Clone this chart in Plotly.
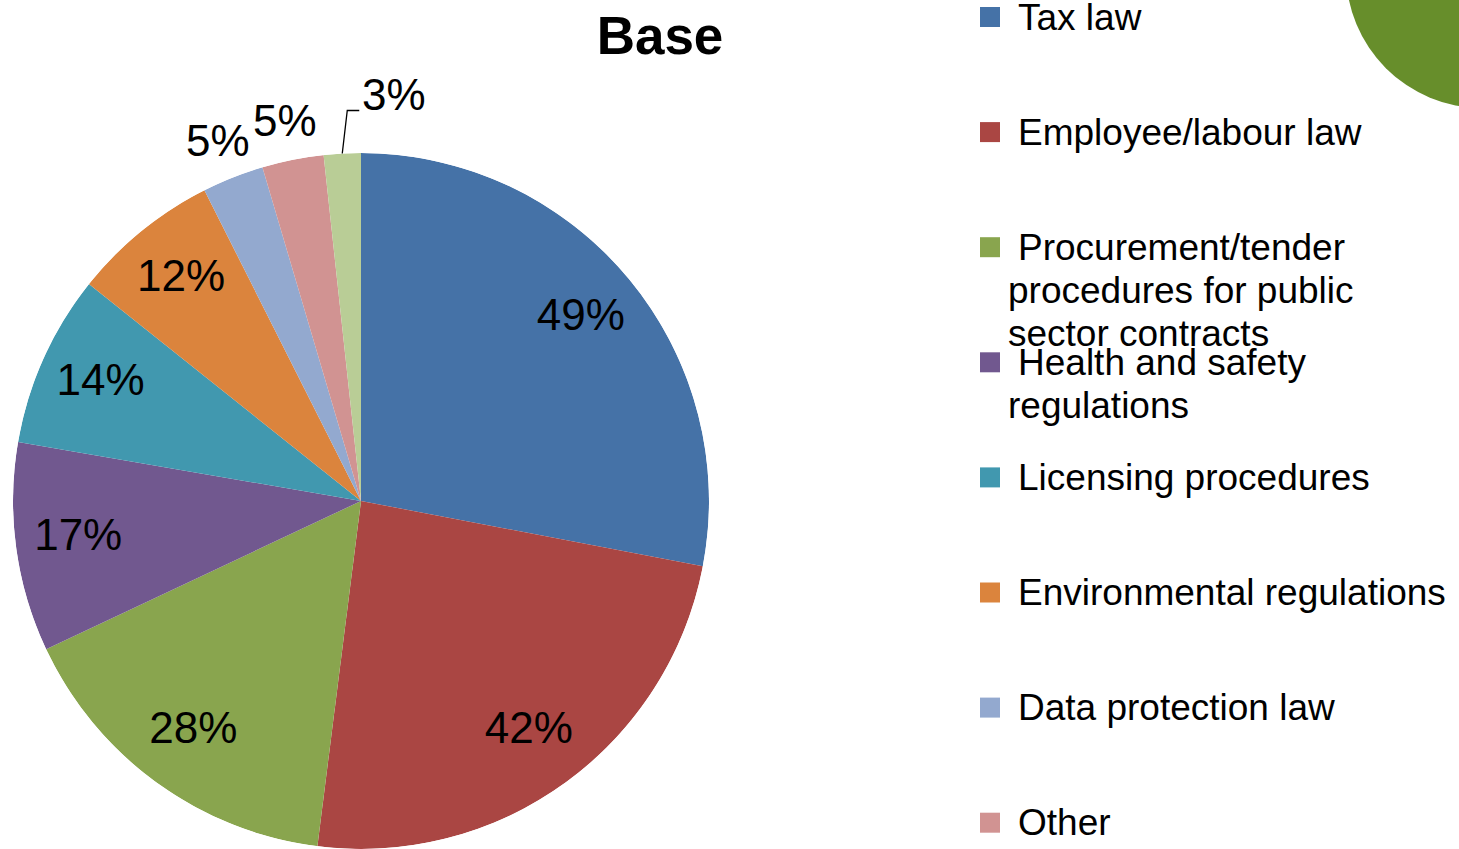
import math
import plotly.graph_objects as go

# Share of respondents citing each area of regulation (%)
categories = [
    "Tax law",
    "Employee/labour law",
    "Procurement/tender procedures for public sector contracts",
    "Health and safety regulations",
    "Licensing procedures",
    "Environmental regulations",
    "Data protection law",
    "Other",
    "Don't know",
]
values = [49, 42, 28, 17, 14, 12, 5, 5, 3]
colors = ["#4572A7", "#AA4643", "#89A54E", "#71588F", "#4198AF",
          "#DB843D", "#93A9CF", "#D19392", "#B9CD96"]
# Wrapped legend text
legend_lines = [
    ["Tax law"],
    ["Employee/labour law"],
    ["Procurement/tender", "procedures for public", "sector contracts"],
    ["Health and safety", "regulations"],
    ["Licensing procedures"],
    ["Environmental regulations"],
    ["Data protection law"],
    ["Other"],
    ["Don't know"],
]

W, H = 1459, 849
FONT = "Liberation Sans, Arial, sans-serif"

# Pie placement on the page (pixels)
CX, CY, R = 361, 501, 348

# Slice geometry in degrees (clockwise from 12 o'clock)
total = sum(values)
widths = [v / total * 360 for v in values]
mids = []
acc = 0.0
for w in widths:
    mids.append(acc + w / 2)
    acc += w
labels_text = [f"{v}%" for v in values]


def rim_point(theta_deg, rr):
    """Pixel position at fraction rr of the radius along angle theta."""
    t = math.radians(theta_deg)
    return CX + rr * R * math.sin(t), CY - rr * R * math.cos(t)


def px(x, y):
    return x / W, 1 - y / H


fig = go.Figure()

# Pie slices as full-radius polar wedges
fig.add_trace(go.Barpolar(
    r=[1] * len(values), theta=mids, width=widths,
    marker=dict(color=colors, line=dict(width=0)),
    customdata=labels_text, hovertext=categories,
    hovertemplate="%{hovertext}: %{customdata}<extra></extra>",
    showlegend=False,
))

# Value labels inside the large slices
big = [i for i, v in enumerate(values) if v >= 10]
small = [i for i, v in enumerate(values) if v < 10]
fig.add_trace(go.Scatterpolar(
    r=[0.82] * len(big), theta=[mids[i] for i in big],
    text=[labels_text[i] for i in big], mode="text",
    textposition="middle center",
    textfont=dict(family=FONT, size=44, color="black"),
    hoverinfo="skip", showlegend=False,
))

# Value labels just outside the rim for the small slices
label_font = dict(family=FONT, size=44, color="black")
for i in small[:-1]:
    x, y = rim_point(mids[i], 1.115)
    ax, ay = px(x, y)
    fig.add_annotation(x=ax, y=ay, xref="paper", yref="paper",
                       text=labels_text[i], showarrow=False,
                       xanchor="center", yanchor="middle", font=label_font)

# Smallest slice: label lifted to the right with an elbow leader line
last = small[-1]
x0, y0 = rim_point(mids[last], 1.0)
x1, y1 = x0 + 5, y0 - 43
x2, y2 = x1 + 12, y1
p0, p1, p2 = px(x0, y0), px(x1, y1), px(x2, y2)
fig.add_shape(type="path", xref="paper", yref="paper",
              path=f"M {p0[0]},{p0[1]} L {p1[0]},{p1[1]} L {p2[0]},{p2[1]}",
              line=dict(color="black", width=1.3))
tx, ty = px(x2 + 2, y2 - 16)
fig.add_annotation(x=tx, y=ty, xref="paper", yref="paper",
                   text=labels_text[last], showarrow=False, borderpad=0,
                   xanchor="left", yanchor="middle", font=label_font)

# Legend drawn as squares plus text lines
pitch = 115.1
line_gap = 43
for i, (lines, col) in enumerate(zip(legend_lines, colors)):
    yc = 17 + pitch * i
    if yc > H:
        continue
    fig.add_shape(type="rect", xref="paper", yref="paper",
                  x0=980 / W, x1=1000 / W,
                  y0=1 - (yc + 10) / H, y1=1 - (yc - 10) / H,
                  fillcolor=col, line=dict(width=0))
    for k, txt in enumerate(lines):
        x = 1017 if k == 0 else 1007
        fig.add_annotation(x=x / W, y=1 - (yc + line_gap * k) / H,
                           xref="paper", yref="paper",
                           xanchor="left", yanchor="middle", borderpad=0,
                           text=txt, showarrow=False,
                           font=dict(family=FONT, size=37, color="black"))

# Decorative green disc in the top-right corner
fig.add_shape(type="circle", xref="paper", yref="paper",
              x0=(1482 - 136) / W, x1=(1482 + 136) / W,
              y0=1 - (-28 + 136) / H, y1=1 - (-28 - 136) / H,
              fillcolor="#678E2B", line=dict(width=0), layer="below")

fig.update_layout(
    width=W, height=H,
    margin=dict(l=0, r=0, t=0, b=0, autoexpand=False),
    paper_bgcolor="white", plot_bgcolor="white",
    polar=dict(
        domain=dict(x=[(CX - R) / W, (CX + R) / W],
                    y=[1 - (CY + R) / H, 1 - (CY - R) / H]),
        bgcolor="rgba(0,0,0,0)",
        bargap=0,
        radialaxis=dict(range=[0, 1], visible=False),
        angularaxis=dict(direction="clockwise", rotation=90, visible=False),
    ),
    title=dict(text="<b>Base</b>", x=660 / W, y=1 - 35 / H,
               xanchor="center", yanchor="middle",
               font=dict(family=FONT, size=53, color="black")),
)

fig.write_html("out.html")
